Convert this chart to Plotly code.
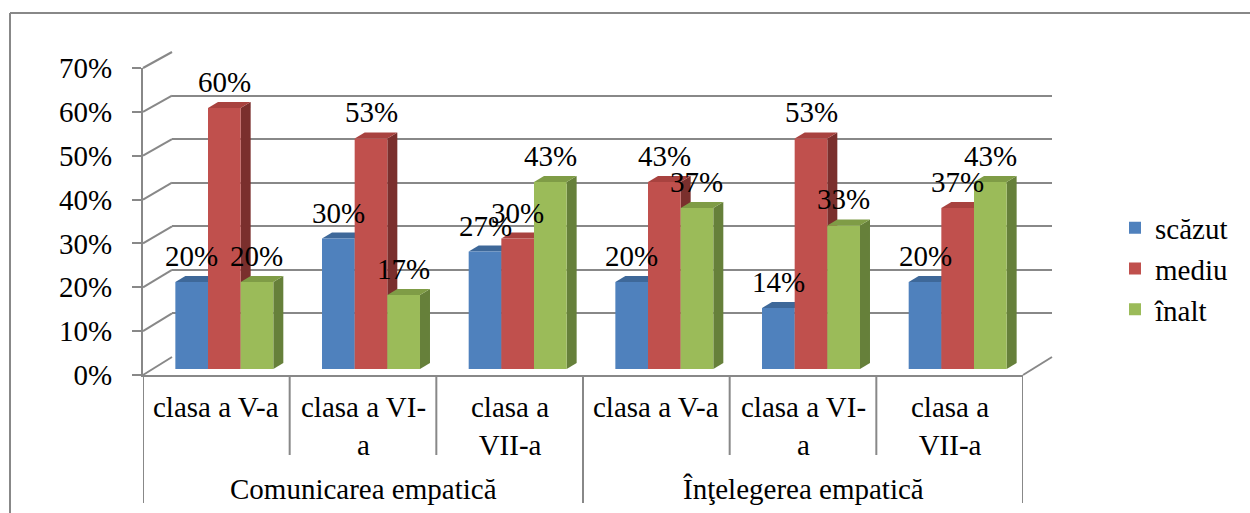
import plotly.graph_objects as go

# ---------------- data ----------------
groups = ["Comunicarea empatică", "Înţelegerea empatică"]
classes = ["clasa a V-a", "clasa a VI-<br>a", "clasa a<br>VII-a"]
series_names = ["scăzut", "mediu", "înalt"]
scazut = [20, 30, 27, 20, 14, 20]
mediu = [60, 53, 30, 43, 53, 37]
inalt = [20, 17, 43, 37, 33, 43]
y_ticks = [0, 10, 20, 30, 40, 50, 60, 70]

# ---------------- style ----------------
W, H = 1250, 513
FONT = "Liberation Serif"
FS = 29
GRID = "#888888"
FRONT_COL = ["#4F81BD", "#C0504D", "#9BBB59"]
TOP_COL = ["#3E6899", "#A8423F", "#7F9C46"]
SIDE_COL = ["#34577F", "#7A2F2D", "#66803A"]

BACK_X, BACK_Y0, BACK_Y70 = (172, 1052), 357, 52
FRONT_X, FRONT_Y0, FRONT_Y70 = (143, 1023), 375, 68
BAR_X, BAR_Y0, BAR_Y70 = (151, 1031), 369, 64.5
DX_PX, DY_PX = 10, 6
BARGAP = 0.332
YMAX = 0.7


def pxx(x):
    return x / W


def pxy(y):
    return 1 - y / H


ncat = len(groups) * len(classes)
values = [scazut, mediu, inalt]
xs = list(range(ncat))

fig = go.Figure()

for s, (name, vals) in enumerate(zip(series_names, values)):
    fig.add_trace(go.Bar(
        x=xs, y=[v / 100 for v in vals], name=name,
        marker=dict(color=FRONT_COL[s], line=dict(width=0)),
        xaxis="x2", yaxis="y2", legendgroup=name, hoverinfo="skip",
    ))

fig.add_trace(go.Scatter(x=[None], y=[None], xaxis="x", yaxis="y", showlegend=False, hoverinfo="skip"))
fig.add_trace(go.Scatter(x=[None], y=[None], xaxis="x3", yaxis="y3", showlegend=False, hoverinfo="skip"))

shapes = []
annotations = []

# 3D top/side faces of each bar, computed from the data through the x2/y2 scales
xu = DX_PX * ncat / (BAR_X[1] - BAR_X[0])
yu = DY_PX * YMAX / (BAR_Y0 - BAR_Y70)
bw = (1 - BARGAP) / 3
for c in range(ncat):
    for s in range(3):
        v = values[s][c] / 100
        xl = c - 1.5 * bw + s * bw
        xr = xl + bw
        top = f"M{xl},{v} L{xr},{v} L{xr+xu},{v+yu} L{xl+xu},{v+yu} Z"
        side = f"M{xr},0 L{xr},{v} L{xr+xu},{v+yu} L{xr+xu},{yu} Z"
        shapes.append(dict(type="path", path=side, xref="x2", yref="y2", layer="between",
                           fillcolor=SIDE_COL[s], line=dict(width=0)))
        shapes.append(dict(type="path", path=top, xref="x2", yref="y2", layer="between",
                           fillcolor=TOP_COL[s], line=dict(width=0)))
        annotations.append(dict(x=(xl + xr) / 2, y=v, xref="x2", yref="y2", text=f"{values[s][c]}%",
                                showarrow=False, yanchor="bottom", yshift=8,
                                font=dict(family=FONT, size=FS, color="black")))


def front_y(v):
    return FRONT_Y0 + (FRONT_Y70 - FRONT_Y0) * v / 70


def back_y(v):
    return BACK_Y0 + (BACK_Y70 - BACK_Y0) * v / 70


# left wall diagonals
for t in y_ticks:
    shapes.append(dict(type="line", xref="paper", yref="paper",
                       x0=pxx(FRONT_X[0]), y0=pxy(front_y(t)), x1=pxx(BACK_X[0]), y1=pxy(back_y(t)),
                       line=dict(color=GRID, width=2), layer="below"))
# right floor diagonal
shapes.append(dict(type="line", xref="paper", yref="paper",
                   x0=pxx(FRONT_X[1]), y0=pxy(FRONT_Y0), x1=pxx(BACK_X[1]), y1=pxy(BACK_Y0),
                   line=dict(color=GRID, width=2), layer="below"))

# category separators / group dividers
for b in range(ncat + 1):
    is_group = b % len(classes) == 0
    shapes.append(dict(type="line", xref="x3", yref="paper",
                       x0=b - 0.5, x1=b - 0.5, y0=pxy(FRONT_Y0), y1=pxy(503 if is_group else 455),
                       line=dict(color=GRID, width=2)))

for c in range(ncat):
    annotations.append(dict(x=c, y=pxy(389), xref="x3", yref="paper", text=classes[c % len(classes)],
                            showarrow=False, yanchor="top",
                            font=dict(family=FONT, size=FS, color="black")))
for g, gname in enumerate(groups):
    annotations.append(dict(x=g * len(classes) + (len(classes) - 1) / 2, y=pxy(489), xref="x3", yref="paper",
                            text=gname, showarrow=False, yanchor="middle",
                            font=dict(family=FONT, size=FS, color="black")))

# outer chart border (top and left edges visible)
shapes.append(dict(type="line", xref="paper", yref="paper", x0=pxx(10), x1=pxx(1260), y0=pxy(13), y1=pxy(13),
                   line=dict(color=GRID, width=2)))
shapes.append(dict(type="line", xref="paper", yref="paper", x0=pxx(10), x1=pxx(10), y0=pxy(13), y1=pxy(530),
                   line=dict(color=GRID, width=2)))

fig.update_layout(
    template="none",
    width=W, height=H, autosize=False,
    margin=dict(l=0, r=0, t=0, b=0, pad=0),
    paper_bgcolor="white", plot_bgcolor="rgba(0,0,0,0)",
    barmode="group", bargap=BARGAP, bargroupgap=0,
    showlegend=True,
    legend=dict(x=pxx(1115), y=pxy(269), xanchor="left", yanchor="middle",
                font=dict(family=FONT, size=FS, color="black"),
                tracegroupgap=12, traceorder="normal", bgcolor="rgba(0,0,0,0)"),
    xaxis=dict(domain=[pxx(BACK_X[0]), pxx(BACK_X[1])], range=[0, 1], visible=False, anchor="y",
               automargin=False),
    yaxis=dict(domain=[pxy(BACK_Y0), pxy(BACK_Y70)], range=[-0.0005, YMAX + 0.0005], anchor="x",
               showgrid=True, gridcolor=GRID, gridwidth=2, dtick=0.1, tick0=0,
               showticklabels=False, zeroline=False, ticks="", showline=False, automargin=False),
    xaxis2=dict(domain=[pxx(BAR_X[0]), pxx(BAR_X[1])], range=[-0.5, ncat - 0.5], visible=False, anchor="y2",
                automargin=False),
    yaxis2=dict(domain=[pxy(BAR_Y0), pxy(BAR_Y70)], range=[0, YMAX], visible=False, anchor="x2",
                automargin=False),
    xaxis3=dict(domain=[pxx(FRONT_X[0]), pxx(FRONT_X[1])], range=[-0.5, ncat - 0.5], anchor="y3",
                showline=True, linecolor=GRID, linewidth=2, showticklabels=False, ticks="",
                showgrid=False, zeroline=False, automargin=False),
    yaxis3=dict(domain=[pxy(FRONT_Y0), pxy(FRONT_Y70)], range=[0, YMAX], anchor="x3",
                showline=True, linecolor=GRID, linewidth=2, ticks="outside", ticklen=9,
                tickcolor=GRID, tickwidth=2, tickvals=[t / 100 for t in y_ticks],
                ticktext=[f"{t}%" for t in y_ticks], ticklabelstandoff=14,
                tickfont=dict(family=FONT, size=FS, color="black"),
                showgrid=False, zeroline=False, automargin=False),
    shapes=shapes, annotations=annotations,
)

fig.write_html("out.html", post_script="document.body.style.margin='0';",
               config={"displayModeBar": False})
